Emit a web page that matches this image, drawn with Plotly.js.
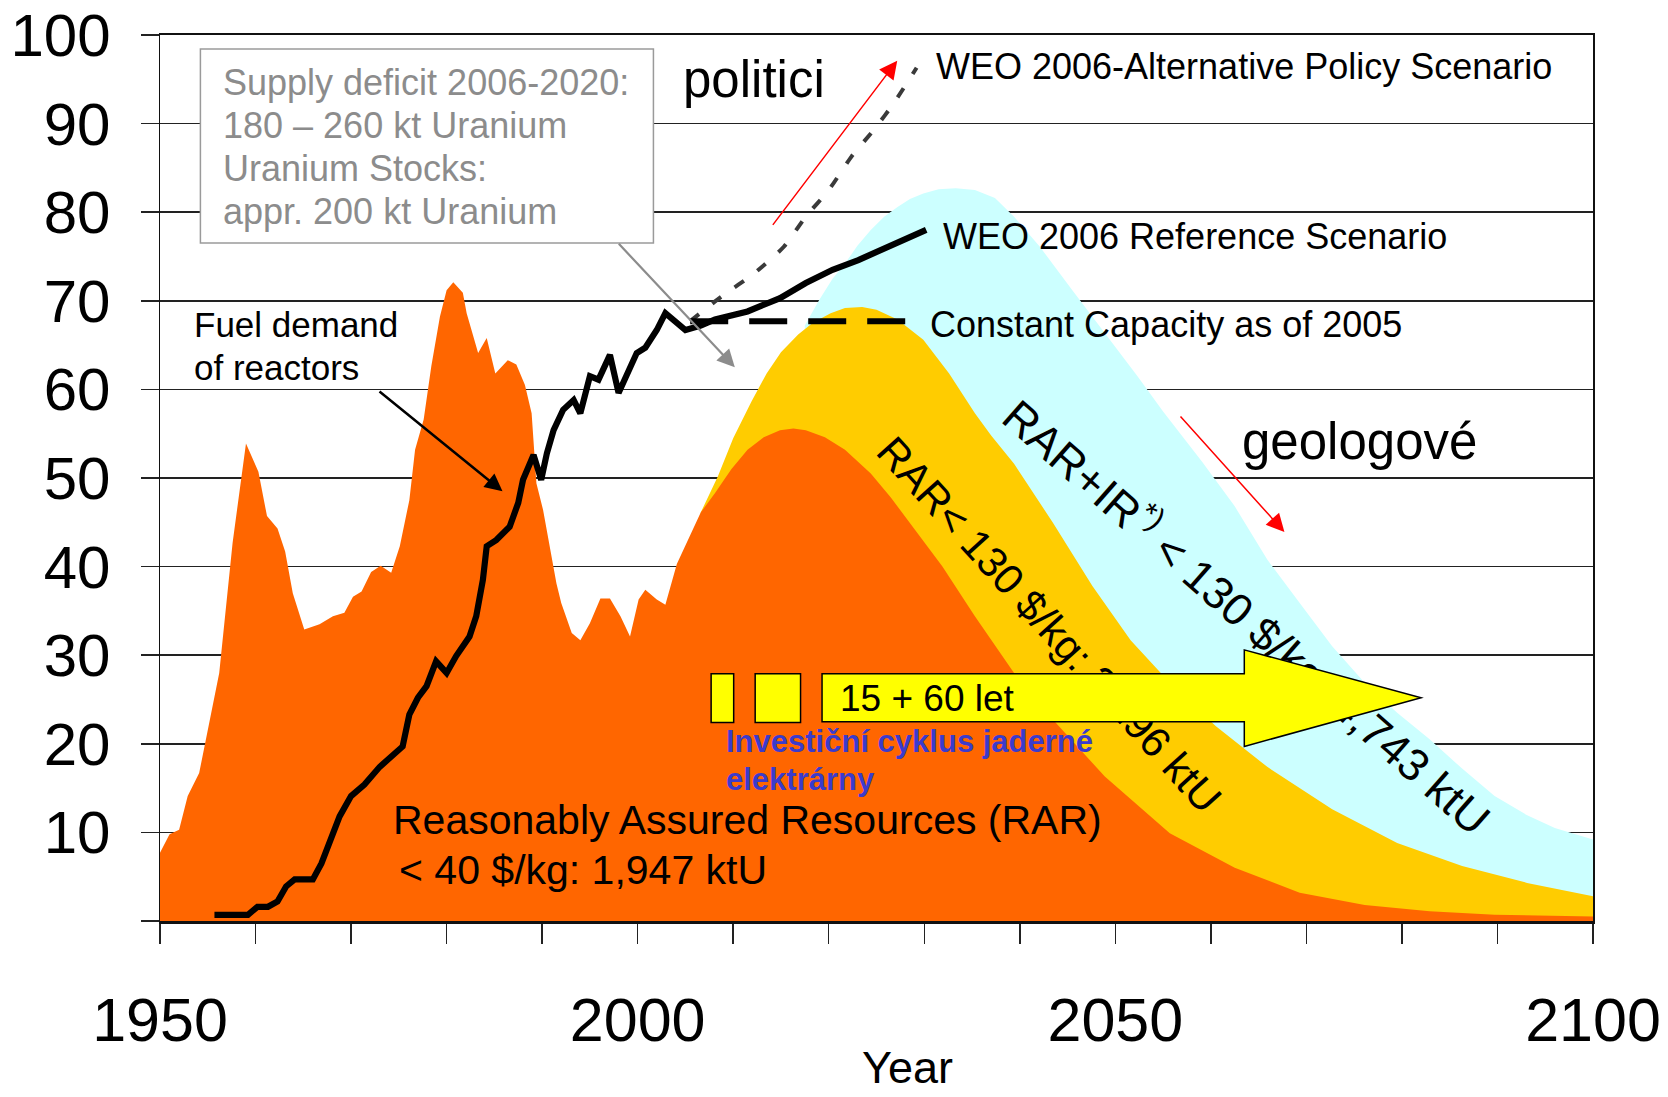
<!DOCTYPE html>
<html>
<head>
<meta charset="utf-8">
<script src="https://cdn.plot.ly/plotly-3.0.1.min.js"></script>
<style>
html,body{margin:0;padding:0;background:#ffffff;}
#chart{width:1668px;height:1097px;}
</style>
</head>
<body>
<div id="chart"></div>
<script>
// ---------------- data ----------------
// Orange: historical uranium production, then RAR < 40 $/kg forecast (kt/year)
const orangeYears = [1950, 1951, 1952, 1952.9, 1954.1, 1954.8, 1956.2, 1957.6, 1959.0, 1960.3, 1961.2, 1962.3, 1963.1, 1963.9, 1965.1, 1966.7, 1968.1, 1969.3, 1970.2, 1971.1, 1972.1, 1973.1, 1974.2, 1975.1, 1976.1, 1976.7, 1977.6, 1978.4, 1979.3, 1980.0, 1980.7, 1981.7, 1982.1, 1983.3, 1984.2, 1985.1, 1986.4, 1987.3, 1988.2, 1988.9, 1989.4, 1990.1, 1991.5, 1992.0, 1993.1, 1994.0, 1995.0, 1996.1, 1997.1, 1998.2, 1999.2, 2000.1, 2000.8, 2002.0, 2002.9, 2004.1, 2005.3, 2006.6, 2008.1, 2009.8, 2011.5, 2013.2, 2014.9, 2016.3, 2017.6, 2019.6, 2021.7, 2024.4, 2026.5, 2028.5, 2031.9, 2035.3, 2039.4, 2043.5, 2048.9, 2055.7, 2062.5, 2069.3, 2076.1, 2082.9, 2089.7, 2100];
const orangeValues = [7.7, 9.8, 10.3, 14.1, 16.7, 20.5, 28.0, 42.7, 53.9, 50.7, 45.7, 44.3, 41.7, 37.0, 32.9, 33.5, 34.4, 34.8, 36.6, 37.2, 39.4, 40.1, 39.3, 42.3, 47.5, 53.2, 56.6, 62.6, 68.2, 71.2, 72.1, 70.9, 68.6, 64.1, 65.8, 61.8, 63.3, 62.8, 60.5, 57.3, 49.4, 46.4, 38.1, 35.9, 32.5, 31.7, 33.6, 36.4, 36.4, 34.4, 32.1, 36.3, 37.4, 36.3, 35.7, 40.3, 43.0, 46.1, 48.3, 51.0, 53.2, 54.6, 55.4, 55.6, 55.4, 54.6, 53.2, 50.5, 47.8, 44.9, 40.0, 34.4, 28.0, 22.7, 16.3, 9.9, 6.0, 3.2, 1.8, 1.1, 0.7, 0.5];

// Yellow-orange: RAR < 130 $/kg (top of band)
const yellowYears = [2006.6, 2008.4, 2010.0, 2011.9, 2013.5, 2015.0, 2016.8, 2018.3, 2020.2, 2021.7, 2023.5, 2025.0, 2027.2, 2029.9, 2032.6, 2035.3, 2037.0, 2039.4, 2043.5, 2047.6, 2051.6, 2055.7, 2060.5, 2065.9, 2072.7, 2079.5, 2086.3, 2093.1, 2100];
const yellowValues = [46.1, 50.2, 54.5, 58.6, 61.8, 64.2, 66.2, 67.5, 68.6, 69.2, 69.3, 69.0, 67.9, 65.6, 61.8, 57.3, 54.8, 51.6, 44.9, 37.8, 31.7, 26.9, 22.0, 17.4, 12.6, 8.8, 6.2, 4.3, 2.8];

// Light cyan: RAR + IR < 130 $/kg (top of band)
const cyanYears = [2017.5, 2019.0, 2020.4, 2021.7, 2023.0, 2024.4, 2025.8, 2027.2, 2028.5, 2029.9, 2031.5, 2033.3, 2035.3, 2037.4, 2039.4, 2042.1, 2045.5, 2048.9, 2052.3, 2055.0, 2059.1, 2062.5, 2065.9, 2069.3, 2072.7, 2076.1, 2079.5, 2082.9, 2086.3, 2089.7, 2093.0, 2096.0, 2100];
const cyanValues = [67.2, 70.1, 72.5, 74.2, 76.2, 78.0, 79.5, 80.6, 81.5, 82.1, 82.6, 82.7, 82.5, 81.6, 79.5, 76.1, 71.2, 66.4, 61.5, 57.5, 51.8, 46.8, 40.8, 35.9, 31.0, 26.9, 23.5, 20.5, 17.2, 14.1, 12.0, 10.5, 9.2];

// Black: fuel demand of reactors, continued by WEO 2006 Reference Scenario
const demandYears = [1955.7, 1959.2, 1960.2, 1961.3, 1962.3, 1963.2, 1964.1, 1966.0, 1966.9, 1967.9, 1968.8, 1970.0, 1971.4, 1973.0, 1974.2, 1975.4, 1976.1, 1977.0, 1977.9, 1978.9, 1980.0, 1981.0, 1982.4, 1983.1, 1983.8, 1984.2, 1985.2, 1986.6, 1987.5, 1988.0, 1989.1, 1989.9, 1990.5, 1991.2, 1992.2, 1993.3, 1994.0, 1995.0, 1995.9, 1997.1, 1998.0, 1998.9, 1999.9, 2000.8, 2002.0, 2002.9, 2005.0, 2006.6, 2008.1, 2011.5, 2014.9, 2017.6, 2020.4, 2023.1, 2025.8, 2028.5, 2030.2];
const demandValues = [0.7, 0.7, 1.6, 1.6, 2.2, 3.9, 4.7, 4.7, 6.5, 9.5, 11.8, 14.1, 15.4, 17.4, 18.6, 19.7, 23.3, 25.2, 26.5, 29.3, 28.0, 29.9, 32.1, 34.4, 38.5, 42.3, 43.0, 44.5, 47.2, 49.8, 52.6, 49.8, 52.8, 55.4, 57.7, 58.8, 57.3, 61.5, 61.1, 63.9, 59.6, 61.8, 64.1, 64.7, 66.7, 68.6, 66.7, 67.2, 67.9, 68.8, 70.3, 72.0, 73.5, 74.6, 75.9, 77.3, 78.0];

// Dashed: constant capacity as of 2005
const constYears = [2005.5, 2029.2];
const constValues = [67.7, 67.7];

// Dotted: WEO 2006 Alternative Policy Scenario
const altYears = [2005.5, 2008.8, 2012.2, 2015.3, 2017.6, 2020.0, 2022.4, 2024.8, 2026.8, 2029.2];
const altValues = [67.7, 70.5, 73.1, 76.1, 79.5, 82.5, 86.3, 89.4, 92.3, 96.3];

// Axis ticks
const xTickVals = [1950, 1960, 1970, 1980, 1990, 2000, 2010, 2020, 2030, 2040, 2050, 2060, 2070, 2080, 2090, 2100];
const xTickText = ['1950', '', '', '', '', '2000', '', '', '', '', '2050', '', '', '', '', '2100'];
const yTickVals = [0, 10, 20, 30, 40, 50, 60, 70, 80, 90, 100];
const yTickText = ['', '10', '20', '30', '40', '50', '60', '70', '80', '90', '100'];

// ---------------- chart ----------------
const FONT = 'Liberation Sans, Arial, Helvetica, sans-serif';

function area(x, y, color) {
  return {x: x, y: y, type: 'scatter', mode: 'lines', fill: 'tozeroy',
          fillcolor: color, line: {width: 0, color: color}, hoverinfo: 'skip'};
}

const traces = [
  area(cyanYears, cyanValues, '#CCFFFF'),
  area(yellowYears, yellowValues, '#FFCC00'),
  area(orangeYears, orangeValues, '#FF6600'),
  {x: altYears, y: altValues, type: 'scatter', mode: 'lines',
   line: {color: '#3a3a3a', width: 4, dash: '11px,17px', shape: 'spline', smoothing: 0.6}, hoverinfo: 'skip'},
  {x: constYears, y: constValues, type: 'scatter', mode: 'lines',
   line: {color: '#000000', width: 6, dash: '38px,21px'}, hoverinfo: 'skip'},
  {x: demandYears, y: demandValues, type: 'scatter', mode: 'lines',
   line: {color: '#000000', width: 6.2, shape: 'linear'}, hoverinfo: 'skip'}
];

function txt(x, y, text, size, extra) {
  const a = {x: x, y: y, xref: 'x', yref: 'y', text: text, showarrow: false,
             xanchor: 'left', yanchor: 'middle', align: 'left',
             font: {family: FONT, size: size, color: '#000000'}};
  return Object.assign(a, extra || {});
}
function arrow(x, y, ax, ay, color, width, size) {
  return {x: x, y: y, ax: ax, ay: ay, xref: 'x', yref: 'y', axref: 'x', ayref: 'y',
          text: '', showarrow: true, arrowhead: 2, arrowsize: size, arrowwidth: width,
          arrowcolor: color, standoff: 0, startstandoff: 0};
}
const GRAY = '#8c8c8c';
const BLUE = '#3b3bcc';

const annotations = [
  txt(1956.34, 94.6, 'Supply deficit 2006-2020:', 36, {font: {family: FONT, size: 36, color: GRAY}}),
  txt(1956.34, 89.8, '180 – 260 kt Uranium', 36, {font: {family: FONT, size: 36, color: GRAY}}),
  txt(1956.34, 84.9, 'Uranium Stocks:', 36, {font: {family: FONT, size: 36, color: GRAY}}),
  txt(1956.34, 80.1, 'appr. 200 kt Uranium', 36, {font: {family: FONT, size: 36, color: GRAY}}),
  txt(1953.34, 67.3, 'Fuel demand', 35),
  txt(1953.34, 62.5, 'of reactors', 35),
  txt(2004.56, 95.0, 'politici', 51),
  txt(2063.02, 54.1, 'geologové', 51),
  txt(2031.06, 96.4, 'WEO 2006-Alternative Policy Scenario', 36),
  txt(2031.73, 77.3, 'WEO 2006 Reference Scenario', 36),
  txt(2030.40, 67.35, 'Constant Capacity as of 2005', 36),
  txt(1974.16, 11.4, 'Reasonably Assured Resources (RAR)', 41),
  txt(1974.83, 5.77, '&lt; 40 $/kg: 1,947 ktU', 41),
  txt(2009.02, 20.3, 'Investiční cyklus jaderné', 31, {font: {family: FONT, size: 31, color: BLUE, weight: 'bold'}}),
  txt(2009.02, 16.0, 'elektrárny', 31, {font: {family: FONT, size: 31, color: BLUE, weight: 'bold'}}),
  txt(2020.93, 25.1, '15 + 60 let', 37),
  {x: 2028.28, y: -0.1659, xref: 'x', yref: 'paper', text: 'Year', showarrow: false,
   xanchor: 'center', yanchor: 'middle', font: {family: FONT, size: 45, color: '#000000'}},
  arrow(2010.17, 62.5, 1997.88, 76.6, GRAY, 2.2, 1.6),
  arrow(1985.85, 48.5, 1972.82, 59.9, '#000000', 2.5, 1.4),
  arrow(2027.17, 97.1, 2014.03, 78.4, '#ff0000', 1.5, 2.4),
  arrow(2067.70, 43.9, 2056.68, 57.1, '#ff0000', 1.5, 2.4)
];

const shapes = [
  // box around the supply-deficit note
  {type: 'rect', xref: 'x', yref: 'y', x0: 1954.23, x1: 2001.65, y0: 76.53, y1: 98.43,
   fillcolor: '#ffffff', line: {color: '#9a9a9a', width: 1.5}, layer: 'above'},
  // rotated labels along the bands (drawn before the yellow arrow so it covers them)
  {type: 'line', xref: 'x', yref: 'y', x0: 2026.6, y0: 53.8, x1: 2060.2, y1: 13.7,
   line: {color: 'rgba(0,0,0,0)', width: 0}, layer: 'above',
   label: {text: 'RAR&lt; 130 $/kg: 2,296 ktU', textposition: 'middle', textangle: 'auto',
           xanchor: 'center', yanchor: 'middle', padding: 0,
           font: {family: FONT, size: 42, color: '#000000'}}},
  {type: 'line', xref: 'x', yref: 'y', x0: 2039.1, y0: 57.7, x1: 2088.4, y1: 10.9,
   line: {color: 'rgba(0,0,0,0)', width: 0}, layer: 'above',
   label: {text: 'RAR+IR<sup>*)</sup> &lt; 130 $/kg: 4,743 ktU', textposition: 'middle', textangle: 'auto',
           xanchor: 'center', yanchor: 'middle', padding: 0,
           font: {family: FONT, size: 45, color: '#000000'}}},
  // investment-cycle blocks and arrow
  {type: 'rect', xref: 'x', yref: 'y', x0: 2007.69, x1: 2010.05, y0: 22.4, y1: 27.9,
   fillcolor: '#FFFF00', line: {color: '#000000', width: 1.5}, layer: 'above'},
  {type: 'rect', xref: 'x', yref: 'y', x0: 2012.3, x1: 2017.05, y0: 22.4, y1: 27.9,
   fillcolor: '#FFFF00', line: {color: '#000000', width: 1.5}, layer: 'above'},
  {type: 'path', xref: 'x', yref: 'y',
   path: 'M2019.3,27.9 L2063.5,27.9 L2063.5,30.6 L2082.0,25.2 L2063.5,19.7 L2063.5,22.5 L2019.3,22.5 Z',
   fillcolor: '#FFFF00', line: {color: '#000000', width: 1.5}, layer: 'above'}
];

const layout = {
  width: 1668, height: 1097,
  margin: {l: 160, r: 75, t: 35, b: 176, pad: 0},
  paper_bgcolor: '#ffffff', plot_bgcolor: '#ffffff',
  showlegend: false, hovermode: false,
  font: {family: FONT, color: '#000000'},
  xaxis: {
    range: [1950, 2100], tickmode: 'array', tickvals: xTickVals, ticktext: xTickText,
    ticks: 'outside', ticklen: 20, tickwidth: 1.5, tickcolor: '#222222',
    showgrid: false, zeroline: false,
    showline: true, linecolor: '#111111', linewidth: 2.5, mirror: true,
    tickfont: {family: FONT, size: 61, color: '#000000'}, ticklabelstandoff: 24
  },
  yaxis: {
    range: [0, 100], tickmode: 'array', tickvals: yTickVals, ticktext: yTickText,
    ticks: 'outside', ticklen: 18, tickwidth: 1.5, tickcolor: '#222222',
    showgrid: true, gridcolor: '#222222', gridwidth: 1.5, zeroline: false,
    showline: true, linecolor: '#111111', linewidth: 1.5, mirror: true,
    tickfont: {family: FONT, size: 60, color: '#000000'}, ticklabelstandoff: 18
  },
  annotations: annotations,
  shapes: shapes
};

Plotly.newPlot('chart', traces, layout, {displayModeBar: false, staticPlot: true});
</script>
</body>
</html>
